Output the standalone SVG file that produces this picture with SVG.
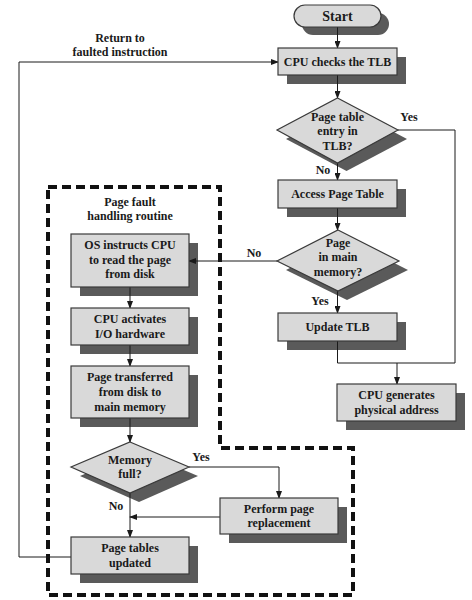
<svg xmlns="http://www.w3.org/2000/svg" width="472" height="600" viewBox="0 0 472 600" font-family="'Liberation Serif', 'Times New Roman', serif">
<defs>
<style>
.box{fill:#d9d9d9;stroke:#3a3a3a;stroke-width:1.2}
.sh{fill:#5a5a5a;stroke:none}
.t{font-family:'Liberation Serif','Times New Roman',serif;font-weight:bold;font-size:12px;fill:#1a1a1a;text-anchor:middle}
.c{fill:none;stroke:#1a1a1a;stroke-width:1}
.dash{fill:none;stroke:#111;stroke-width:4;stroke-dasharray:9 5}
</style>
<marker id="ah" markerWidth="8" markerHeight="6" refX="7" refY="3" orient="auto" markerUnits="userSpaceOnUse">
<path d="M0,0 L8,3 L0,6 Z" fill="#1a1a1a"/>
</marker>
</defs>
<rect width="472" height="600" fill="#ffffff"/>

<!-- shadows -->
<g id="shadows">
<rect class="sh" x="302" y="13" width="87" height="22" rx="11"/>
<rect class="sh" x="287" y="57" width="119" height="27"/>
<polygon class="sh" points="346.5,107 407,139 346.5,171 286,139"/>
<rect class="sh" x="287" y="189" width="119" height="28"/>
<polygon class="sh" points="347,239 408,270 347,300 286,270"/>
<rect class="sh" x="287" y="322" width="119" height="28"/>
<rect class="sh" x="346" y="393" width="119" height="37"/>
<rect class="sh" x="80" y="243" width="118" height="53"/>
<rect class="sh" x="80" y="317" width="118" height="37"/>
<rect class="sh" x="80" y="375" width="118" height="52"/>
<polygon class="sh" points="139,451 198,476 139,502 80,476"/>
<rect class="sh" x="80" y="546" width="118" height="37"/>
<rect class="sh" x="229" y="507" width="118" height="36"/>
</g>

<!-- dashed boundary -->
<path class="dash" d="M48,187 H220 V448 H353 V595 H48 Z"/>
<text class="t" x="130" y="206">Page fault</text>
<text class="t" x="130" y="220">handling routine</text>

<!-- connectors -->
<g id="connectors">
<line class="c" x1="337.5" y1="27" x2="337.5" y2="48" marker-end="url(#ah)"/>
<line class="c" x1="337.5" y1="75" x2="337.5" y2="98" marker-end="url(#ah)"/>
<line class="c" x1="337.5" y1="163" x2="337.5" y2="180" marker-end="url(#ah)"/>
<text class="t" x="323" y="174">No</text>
<polyline class="c" points="398,130 455,130 455,363 337.5,363 337.5,341"/>
<text class="t" x="409" y="121">Yes</text>
<line class="c" x1="397" y1="363" x2="397" y2="384" marker-end="url(#ah)"/>
<line class="c" x1="337.5" y1="208" x2="337.5" y2="230" marker-end="url(#ah)"/>
<line class="c" x1="337.5" y1="291" x2="337.5" y2="313" marker-end="url(#ah)"/>
<text class="t" x="320" y="305">Yes</text>
<line class="c" x1="277" y1="261" x2="189" y2="261" marker-end="url(#ah)"/>
<text class="t" x="254" y="257">No</text>
<line class="c" x1="130" y1="287" x2="130" y2="308" marker-end="url(#ah)"/>
<line class="c" x1="130" y1="345" x2="130" y2="366" marker-end="url(#ah)"/>
<line class="c" x1="130" y1="418" x2="130" y2="442" marker-end="url(#ah)"/>
<polyline class="c" points="189,467 279,467 279,498" marker-end="url(#ah)"/>
<text class="t" x="201" y="461">Yes</text>
<line class="c" x1="130" y1="493" x2="130" y2="537" marker-end="url(#ah)"/>
<text class="t" x="116" y="510">No</text>
<line class="c" x1="220" y1="517" x2="130" y2="517" marker-end="url(#ah)"/>
<polyline class="c" points="71,557 19,557 19,62 278,62" marker-end="url(#ah)"/>
<text class="t" x="120" y="42">Return to</text>
<text class="t" x="120" y="56">faulted instruction</text>
</g>

<!-- nodes -->
<g id="start">
<rect class="box" x="294" y="5" width="87" height="22" rx="11"/>
<text class="t" x="337.5" y="21" style="font-size:14px">Start</text>
</g>
<g id="cpu-checks-tlb">
<rect class="box" x="278" y="48" width="119" height="27"/>
<text class="t" x="337.5" y="66">CPU checks the TLB</text>
</g>
<g id="tlb-decision">
<polygon class="box" points="337.5,98 398,130 337.5,163 277,130"/>
<text class="t" x="337.5" y="121">Page table</text>
<text class="t" x="337.5" y="135">entry in</text>
<text class="t" x="337.5" y="150">TLB?</text>
</g>
<g id="access-page-table">
<rect class="box" x="278" y="180" width="119" height="28"/>
<text class="t" x="337.5" y="198">Access Page Table</text>
</g>
<g id="main-memory-decision">
<polygon class="box" points="338,230 399,261 338,291 277,261"/>
<text class="t" x="338" y="247">Page</text>
<text class="t" x="338" y="261">in main</text>
<text class="t" x="338" y="276">memory?</text>
</g>
<g id="update-tlb">
<rect class="box" x="278" y="313" width="119" height="28"/>
<text class="t" x="337.5" y="331">Update TLB</text>
</g>
<g id="cpu-generates">
<rect class="box" x="337" y="384" width="119" height="37"/>
<text class="t" x="396.5" y="399">CPU generates</text>
<text class="t" x="396.5" y="414">physical address</text>
</g>
<g id="os-instructs">
<rect class="box" x="71" y="234" width="118" height="53"/>
<text class="t" x="130" y="249">OS instructs CPU</text>
<text class="t" x="130" y="264">to read the page</text>
<text class="t" x="130" y="278">from disk</text>
</g>
<g id="cpu-activates">
<rect class="box" x="71" y="308" width="118" height="37"/>
<text class="t" x="130" y="323">CPU activates</text>
<text class="t" x="130" y="338">I/O hardware</text>
</g>
<g id="page-transferred">
<rect class="box" x="71" y="366" width="118" height="52"/>
<text class="t" x="130" y="381">Page transferred</text>
<text class="t" x="130" y="396">from disk to</text>
<text class="t" x="130" y="411">main memory</text>
</g>
<g id="memory-full">
<polygon class="box" points="130,442 189,467 130,493 71,467"/>
<text class="t" x="130" y="464">Memory</text>
<text class="t" x="130" y="478">full?</text>
</g>
<g id="page-replacement">
<rect class="box" x="220" y="498" width="118" height="36"/>
<text class="t" x="279" y="513">Perform page</text>
<text class="t" x="279" y="527">replacement</text>
</g>
<g id="page-tables-updated">
<rect class="box" x="71" y="537" width="118" height="37"/>
<text class="t" x="130" y="552">Page tables</text>
<text class="t" x="130" y="567">updated</text>
</g>
</svg>
